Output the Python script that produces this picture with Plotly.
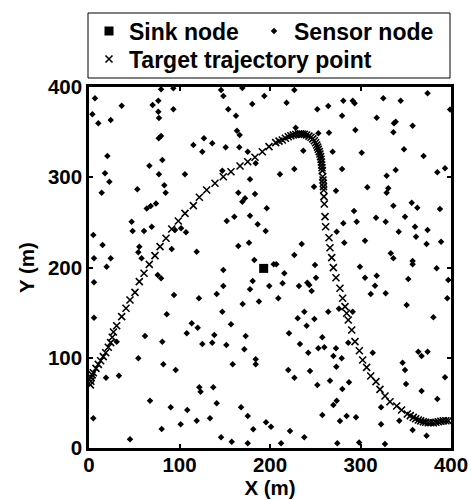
import plotly.graph_objects as go

# ---- data (metres) ----
sink_x = [193]
sink_y = [199]

sensor_x = [
    6.6, 79.6, 36.1, 70.3, 76.6, 93.2, 76.6, 3.7, 10.3, 24, 77.3, 77, 79.6, 127, 115.3, 125.2, 20.3, 81, 66.7, 17.7,
    22.5, 77.3, 106, 14, 53.4, 83.2, 84.7, 74, 93.2,
    68.2, 63.8, 47.1, 48.2, 60.8, 69.3, 95, 101.7, 107.2, 4.8, 15, 55.6, 54.5, 58.1, 91.4, 119, 5.5, 24, 19.5, 75.9,
    79.6, 5.5, 93.9, 121.5, 85.9, 5.5, 113.5, 120.1,
    145.9, 148.4, 169.4, 226.9, 193.7, 180.4, 218.3, 264.4, 153.9, 162.4, 252.3, 163.5, 166.5, 228.4, 253.4, 265.2,
    136.2, 151, 166.1, 175.4, 236.8, 184.2, 147.3, 211, 226.9, 177.9, 248.6, 165, 183.4, 169.4, 172.4,
    374.1, 281, 291.4, 293.5, 325.2, 344.4, 279.6, 317.9, 337, 338.9, 357.6, 294.3, 336.3, 269.2, 301.3, 348.1, 369.7,
    279.6, 338.9, 328.9, 384.9, 393.4, 272.9, 307.5, 330.7, 328.9, 356.6, 399,
    196.4, 152.2, 160.6, 177.9, 186.4, 195.2, 165, 176.8, 235, 226.9, 182.7, 204.1, 207, 148.4, 249.7, 215.8, 250.8,
    180.9, 213.9, 148.4, 177.9, 199.2, 232, 241.2, 243.4, 141.1, 246, 209.2, 169.8, 187.8, 147.3, 237.9, 264.4, 230.6,
    249, 240.5, 156.9,
    336.3, 362.8, 387.8, 292.8, 317.1, 281, 295.8, 327.8, 349.2, 360.2, 374.1, 342.2, 361.3, 273.7, 305, 282.1, 373,
    389, 333.4, 336.3, 357.6, 357.6, 299.4, 384.1, 305, 317.9, 352.8, 397, 316, 311.3, 327.8, 395.9, 351, 380.5, 276.2,
    291.4,
    61.9, 108, 81, 125.2, 30.6, 54.5, 82.1, 95.8, 18.8, 33.1, 121.9, 123.3, 67.4, 90.3, 108.6, 4.8, 80.3, 101.3, 119,
    45.3,
    138.5, 136.2, 173.1, 151.7, 171.6, 221, 233.1, 257.8, 253.4, 260, 242.3, 184.2, 184.2, 158.8, 220.2, 227, 244.2,
    252.3, 266.3, 137.3, 141.1, 168, 175.4, 133.7, 257.8, 195.6, 201.1, 181.5, 222.1, 145.9, 157.7, 175.4, 212.2, 237.9,
    286.5, 272.9, 270, 279.2, 273.3, 313.5, 363.9, 367.5, 374.1, 346.5, 349.2, 287.3, 350.3, 393.4, 279.9, 367.5, 384.9,
    273.7, 270, 322.7, 284.7, 277.3, 295, 342.9, 322.7, 357.6, 373, 274.4, 298.5, 327,
]
sensor_y = [
    387.5, 397.4, 379.3, 380, 384.8, 375.3, 372.6, 369.7, 359.8, 363.4, 365.7, 343.2, 345.7, 343.2, 335.7, 328.3, 323.5,
    319, 312.8, 304.4, 295, 303.3, 303.3, 282.9, 286.6, 291, 282.9, 271, 398.5,
    268.1, 265.5, 250.8, 240.4, 240.4, 245.2, 241.6, 243.4, 239, 236, 224.9, 223.1, 216.8, 210.2, 220.5, 217.5, 210.2,
    210.2, 200.9, 191.7, 188, 183.6, 169.5, 165.9, 148.1, 144.4, 138.1, 133.3,
    396.7, 390, 399, 396.7, 390, 381.2, 382.6, 379, 375.3, 368.2, 375.3, 351.6, 346.8, 354.9, 348.7, 349.4, 337.6, 333.2,
    333.2, 328.3, 329.4, 315.5, 307.3, 303.3, 309.1, 297.7, 289.5, 282.9, 281.4, 272.9, 276.6,
    393, 384.8, 384.8, 381.9, 387.5, 384.8, 368.2, 366, 359.8, 361.6, 357.2, 352.4, 349.8, 328.3, 327.2, 331, 323.5,
    309.1, 308, 301.7, 305.5, 309.9, 285.1, 288.8, 287.7, 282.9, 271.8, 375,
    265.6, 251.5, 256.3, 257.4, 247.9, 240.4, 223.8, 227.5, 226, 213.9, 208.3, 203.5, 203.5, 197.2, 202.8, 193.6, 188.7,
    185, 182.5, 179.5, 175.8, 179.5, 179.5, 183.2, 180.6, 170.6, 174, 165.9, 159.6, 162.3, 151, 151, 151, 143.7, 142.9,
    135.5, 137,
    268.5, 266.3, 264.8, 262.6, 255.2, 249, 250.8, 250.8, 256.3, 245.2, 241.6, 239.7, 234.1, 239.7, 229.7, 227.5, 226,
    228.6, 215.7, 210.2, 207.2, 203.5, 200.9, 199.1, 188.7, 190.9, 187.3, 186.1, 179.8, 170.6, 171.4, 165.9, 158.4,
    144.8, 154.4, 151,
    124.1, 127.1, 117.8, 115.2, 117.8, 99.4, 92.7, 86.4, 77.9, 80.1, 67.3, 62.4, 52.4, 45.1, 42.1, 32.9, 21.1, 26.3,
    30.3, 9.6,
    125.2, 116.7, 124.1, 114.1, 109.4, 127.1, 115.2, 122.7, 110.4, 111.6, 105.6, 98.3, 92.7, 92.7, 86.4, 77.9, 85.3,
    69.8, 74.6, 67.3, 49.5, 45.1, 35.5, 32.9, 36.6, 28.5, 23.6, 20.7, 18.8, 11.9, 7, 5.2, 5.2, 11.9,
    116.7, 110.5, 101.9, 99.4, 90.1, 105.6, 106.7, 101.9, 106.7, 94.5, 86.4, 72.8, 70.9, 78.3, 65.4, 63.2, 54.3, 52.4,
    47.6, 45.1, 35.5, 29.9, 34, 30.3, 26.3, 19.9, 13.6, 5.2, 6, 4.4,
]

traj_x = [
    1.5, 2, 2.5, 3.5, 4.8, 7.7, 10.3, 12.9, 15.8, 18.5, 21.3, 24, 25.7, 27, 30.6, 36.1, 40.9, 45.3, 50.8, 55.6, 60.8,
    66.6, 72.9, 78.5, 85.1, 91.4, 98.7, 106.1, 115.3, 121.9, 130, 139.2, 148.4, 156.9, 166.9, 175.4, 183.4, 191.5,
    198.9, 206.3, 210, 213.6, 217, 220.2, 223, 225.7, 228.5, 231.3, 233.5, 235.7, 238, 240.5, 243, 245.3, 247.3, 249,
    250.4, 251.6, 252.6, 253.4, 254.4, 255.2, 255.9, 256.4, 256.8, 257.1, 257.5, 257.8, 258.2, 258.6, 258.9, 259.1,
    259.3, 259.6, 260, 260.8, 261.5, 265.2, 266.3, 268.2, 270, 272.9, 277.3, 280.3, 282.9, 284.7, 286.5, 290.3, 293.9,
    298.7, 302.4, 306.8, 311.3, 317.1, 321.5, 327.1, 332.6, 340, 345.4, 351.7, 355, 358.3, 361, 363.9, 366.5, 369.4,
    372, 374.9, 377.7, 380.5, 383.3, 386, 388.8, 391.5, 394.3, 397,
]
traj_y = [
    70, 74, 78, 81, 83.4, 88.3, 92.7, 96.7, 101.2, 105.6, 111.6, 116.7, 122.7, 128.5, 135.5, 145.5, 154.8, 164, 172.5,
    184.3, 193.6, 203.5, 213.1, 223.1, 232.4, 242.7, 251.5, 260, 268.5, 277.8, 285.9, 293.3, 300.6, 306.1, 312.5, 317.2,
    322.1, 328.3, 333.9, 338.3, 340, 341.3, 343.2, 344.9, 346, 346.8, 347.4, 347.9, 348, 347.9, 347.5, 346.8, 345.6,
    344.3, 342.5, 340.5, 338.2, 335.7, 333.4, 331, 328.4, 325.8, 322.9, 319.9, 316.8, 313.6, 310.5, 307.3, 300.6,
    297, 293.3, 289.6, 285.9, 278.5, 270.4, 256.3, 245.2, 233, 221.9, 210.9, 199.8, 188.7, 177, 165.9, 156.6, 149.3,
    141.8, 130.7, 117.8, 107.8, 97.5, 89.4, 79.8, 73.5, 65, 57.6, 51.3, 46.5, 42.1, 37.7, 35.8, 34, 32.4, 31, 30,
    29.1, 28.5, 28, 28, 28, 28.5, 29.1, 29.6, 30.2, 30.2, 30.2,
]

FONT = "Liberation Sans"
W, H = 471, 500
ML, MR, MT, MB = 89, 20, 87, 52
PW, PH = W - ML - MR, H - MT - MB


def px_x(p):  # pixel column -> paper x
    return (p - ML) / PW


def px_y(p):  # pixel row -> paper y
    return (H - MB - p) / PH


fig = go.Figure()
fig.add_trace(go.Scatter(
    x=sink_x, y=sink_y, mode="markers", name="Sink node", legend="legend",
    marker=dict(symbol="square", size=9, color="black"), legendwidth=120,
))
fig.add_trace(go.Scatter(
    x=sensor_x, y=sensor_y, mode="markers", name="Sensor node", legend="legend",
    marker=dict(symbol="diamond", size=5, color="black"), legendwidth=145,
))
fig.add_trace(go.Scatter(
    x=traj_x, y=traj_y, mode="markers", name="Target trajectory point", legend="legend2",
    marker=dict(symbol="x-thin", size=7, color="black", line=dict(width=1.6, color="black")),
))

tfont = dict(family=FONT, size=20.5, color="black", weight="bold")
titfont = dict(family=FONT, size=20.5, color="black", weight="bold")
axis_common = dict(
    range=[0, 400], tickvals=[0, 100, 200, 300, 400],
    showgrid=False, zeroline=False,
    showline=True, linecolor="black", linewidth=2.5, mirror="ticks",
    ticks="inside", ticklen=4, tickwidth=2, tickcolor="black",
    tickfont=tfont,
)

lfont = dict(family=FONT, size=23, color="black", weight="bold")
fig.update_layout(
    width=W, height=H,
    margin=dict(l=ML, r=MR, t=MT, b=MB, autoexpand=False),
    paper_bgcolor="white", plot_bgcolor="white",
    showlegend=True,
    legend=dict(
        orientation="h", x=px_x(89), xanchor="left", y=px_y(31), yanchor="middle",
        borderwidth=0, bgcolor="rgba(0,0,0,0)", font=lfont,
        entrywidthmode="pixels", itemsizing="trace",
    ),
    legend2=dict(
        orientation="h", x=px_x(89), xanchor="left", y=px_y(59), yanchor="middle",
        borderwidth=0, bgcolor="rgba(0,0,0,0)", font=lfont, itemsizing="trace",
    ),
    shapes=[dict(
        type="rect", xref="paper", yref="paper",
        x0=px_x(88), x1=px_x(450), y0=px_y(78), y1=px_y(13),
        line=dict(color="black", width=1), fillcolor="rgba(0,0,0,0)", layer="above",
    )],
    xaxis=dict(axis_common, ticklabelstandoff=-3,
               title=dict(text="X (m)", standoff=3, font=titfont)),
    yaxis=dict(axis_common, title=dict(text="Y (m)", standoff=8, font=titfont)),
)

fig.write_html("out.html")
